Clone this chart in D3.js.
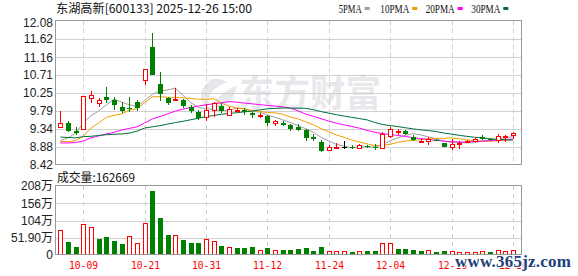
<!DOCTYPE html>
<html>
<head>
<meta charset="utf-8">
<script src="https://cdn.jsdelivr.net/npm/d3@7"></script>
<style>
  body { margin: 0; background: #fff; }
  svg { display: block; }
</style>
</head>
<body>
<svg id="chart"></svg>
<script>
// daily data, 2025-09-26 .. 2025-12-26
const dates = ["09-26","09-29","09-30","10-09","10-10","10-13","10-14","10-15","10-16","10-17",
  "10-20","10-21","10-22","10-23","10-24","10-27","10-28","10-29","10-30","10-31",
  "11-03","11-04","11-05","11-06","11-07","11-10","11-11","11-12","11-13","11-14",
  "11-17","11-18","11-19","11-20","11-21","11-24","11-25","11-26","11-27","11-28",
  "12-01","12-02","12-03","12-04","12-05","12-08","12-09","12-10","12-11","12-12",
  "12-15","12-16","12-17","12-18","12-19","12-22","12-23","12-24","12-25","12-26"];
const opens = [9.38,9.48,9.29,9.33,10.12,9.99,10.15,10.07,9.89,9.87,
  10.01,10.57,11.42,10.48,10.12,10.06,10.07,9.90,9.77,9.63,
  9.82,9.93,9.69,9.79,9.82,9.73,9.66,9.67,9.48,9.48,
  9.44,9.39,9.31,9.14,9.01,8.80,8.86,8.89,8.87,8.84,
  8.90,8.87,8.86,9.16,9.26,9.28,9.12,9.00,9.04,9.06,
  8.99,8.88,8.95,9.00,9.02,9.12,9.08,9.06,9.13,9.19];
const highs = [9.79,9.54,9.39,10.17,10.30,10.12,10.40,10.14,10.02,10.14,
  10.08,10.85,11.77,10.78,10.16,10.37,10.11,9.94,9.82,9.97,
  10.02,10.00,9.90,9.88,9.88,9.77,9.75,9.68,9.56,9.54,
  9.46,9.45,9.33,9.20,9.05,8.92,8.97,9.03,8.93,8.95,
  8.94,8.95,9.27,9.39,9.33,9.31,9.17,9.09,9.14,9.08,
  8.99,9.07,9.02,9.06,9.11,9.17,9.10,9.21,9.19,9.26];
const lows = [9.37,9.25,9.17,9.33,10.00,9.89,10.00,9.83,9.73,9.77,
  9.78,10.46,10.71,10.04,9.94,10.06,9.88,9.75,9.56,9.55,
  9.65,9.73,9.69,9.75,9.69,9.62,9.61,9.41,9.41,9.41,
  9.29,9.28,9.03,9.03,8.74,8.77,8.85,8.83,8.82,8.82,
  8.85,8.80,8.83,9.10,9.18,9.17,9.02,8.97,8.94,9.02,
  8.88,8.81,8.83,8.99,9.00,9.06,9.04,8.97,9.00,9.09];
const closes = [9.48,9.29,9.24,10.17,10.19,10.08,10.07,9.95,9.80,9.85,
  9.87,10.85,10.71,10.22,9.99,10.10,9.92,9.80,9.61,9.82,
  10.00,9.80,9.85,9.83,9.76,9.68,9.70,9.49,9.53,9.43,
  9.34,9.31,9.10,9.08,8.78,8.88,8.89,8.89,8.84,8.92,
  8.88,8.84,9.21,9.33,9.28,9.21,9.06,9.04,9.08,9.05,
  8.88,8.95,8.99,9.04,9.08,9.09,9.06,9.16,9.16,9.23];
// volume, in 万
const volumes = [75.4,40.1,25.0,93.4,84.4,48.2,54.3,43.2,33.2,56.3,
  35.2,95.5,193.8,111.5,60.3,60.3,46.2,36.2,36.2,47.2,
  43.2,27.1,23.1,21.1,21.1,24.1,15.1,21.1,15.1,16.1,
  16.1,19.1,21.1,13.1,24.1,12.1,12.1,12.1,10.0,12.1,
  13.1,13.1,36.2,35.2,18.1,18.1,15.1,12.1,15.1,10.0,
  12.1,13.1,10.0,9.0,10.0,12.1,10.0,15.1,12.1,16.2669];
// MA values before the window is full
const ma5Head = [9.04,9.11,9.23,9.49];
const ma10Head = [9.02,9.01,9.04,9.15,9.36,9.49,9.63,9.68,9.72];
const ma20Head = [8.98,8.98,8.99,9.03,9.11,9.16,9.21,9.25,9.31,9.35,
  9.39,9.49,9.59,9.65,9.72,9.79,9.84,9.88,9.92];
const ma30Head = [9.13,9.12,9.11,9.14,9.15,9.17,9.19,9.20,9.21,9.23,
  9.28,9.36,9.39,9.42,9.46,9.50,9.53,9.57,9.61,9.65,
  9.68,9.71,9.73,9.75,9.77,9.79,9.82,9.85,9.86];

const priceTicks = ["12.08","11.62","11.16","10.71","10.25","9.79","9.34","8.88","8.42"];
const volTicks = [208, 156, 104, 51.9, 0];
const volTickLabels = ["208万","156万","104万","51.90万","0"];
const dateTicks = ["10-09","10-21","10-31","11-12","11-24","12-04","12-16","12-26"];

const title = "东湖高新[600133] 2025-12-26 15:00";
const volTitle = "成交量:162669";
const maNames = ["5PMA","10PMA","20PMA","30PMA"];
const maColors = ["#a0a0a0","#f0a000","#ff00ff","#00703c"];

const red = "#ff0000", green = "#008000";

const svg = d3.select("#chart")
  .attr("width", 578)
  .attr("height", 276);

const left = 56, right = 522;
const pTop = 21, pBottom = 165;
const vTop = 186, vBottom = 255;

const x = d3.scaleBand()
  .domain(dates)
  .range([56.5, 516.7]);
const cx = d => Math.round(x(d) + x.bandwidth() / 2) + 0.5;

const y = d3.scaleLinear()
  .domain([8.42, 12.08])
  .range([pBottom, pTop]);
const yv = d3.scaleLinear()
  .domain([0, 208])
  .range([vBottom, vTop]);

const data = dates.map((d, i) => ({
  date: d, open: opens[i], high: highs[i], low: lows[i], close: closes[i], vol: volumes[i]
}));

function movingAvg(head, n) {
  return closes.map((c, i) => i < head.length ? head[i] : d3.mean(closes.slice(i - n + 1, i + 1)));
}
const mas = [movingAvg(ma5Head, 5), movingAvg(ma10Head, 10), movingAvg(ma20Head, 20), movingAvg(ma30Head, 30)];

// watermark
const wm = svg.append("g").attr("class", "watermark");
wm.append("path")
  .attr("d", "M212,79 C199,87 197,102 209,109 C205,98 212,88 227,82 C222,79 216,78 212,79 Z M215,101 C222,92 232,88 237,85 C235,98 227,107 213,109 Z")
  .attr("fill", "#e8e8ec");
wm.append("text")
  .attr("x", 239)
  .attr("y", 107)
  .attr("font-family", "Noto Sans CJK SC")
  .attr("font-weight", "bold")
  .attr("font-size", 37)
  .attr("fill", "#e8e8ec")
  .attr("textLength", 142)
  .attr("lengthAdjust", "spacingAndGlyphs")
  .text("东方财富");

// grid
const grid = svg.append("g").attr("class", "grid")
  .attr("stroke", "#d0d0d0")
  .attr("shape-rendering", "crispEdges");
grid.selectAll(".hp")
  .data(priceTicks.slice(1, -1))
  .enter().append("line")
  .attr("x1", left).attr("x2", right)
  .attr("y1", d => Math.round(y(+d)) + 0.5)
  .attr("y2", d => Math.round(y(+d)) + 0.5);
grid.selectAll(".hv")
  .data(volTicks.slice(1, -1))
  .enter().append("line")
  .attr("x1", left).attr("x2", right)
  .attr("y1", d => Math.round(yv(d)) + 0.5)
  .attr("y2", d => Math.round(yv(d)) + 0.5);
[[pTop, pBottom], [vTop, vBottom]].forEach(function (r) {
  grid.selectAll(null)
    .data(dateTicks)
    .enter().append("line")
    .attr("x1", d => cx(d)).attr("x2", d => cx(d))
    .attr("y1", r[0]).attr("y2", r[1])
    .attr("stroke-dasharray", "4,4");
});

// moving averages
const maLine = d3.line()
  .x((v, i) => x(dates[i]) + x.bandwidth() / 2)
  .y(v => y(v));
svg.append("g").selectAll("path")
  .data(mas)
  .enter().append("path")
  .attr("d", d => maLine(d))
  .attr("fill", "none")
  .attr("stroke", (d, i) => maColors[i])
  .attr("stroke-width", 1);

// candles
const candles = svg.append("g").attr("class", "candles")
  .attr("shape-rendering", "crispEdges");
data.forEach(function (d) {
  const c = cx(d.date);
  const up = d.close > d.open, flat = d.close === d.open;
  const color = flat ? "#000" : (up ? red : green);
  const yo = Math.round(y(d.open)), yc = Math.round(y(d.close));
  const bt = Math.min(yo, yc), bb = Math.max(yo, yc);
  const yh = Math.round(y(d.high)), yl = Math.round(y(d.low));
  if (up) {
    if (yh < bt) candles.append("line").attr("x1", c).attr("x2", c).attr("y1", yh).attr("y2", bt).attr("stroke", color);
    if (yl > bb) candles.append("line").attr("x1", c).attr("x2", c).attr("y1", bb + 1).attr("y2", yl).attr("stroke", color);
    candles.append("rect")
      .attr("x", c - 2).attr("y", bt + 0.5)
      .attr("width", 4).attr("height", Math.max(bb - bt, 1))
      .attr("fill", "#fff").attr("stroke", color);
  } else {
    candles.append("line").attr("x1", c).attr("x2", c).attr("y1", yh).attr("y2", yl).attr("stroke", color);
    candles.append("rect")
      .attr("x", c - 2.5).attr("y", bt)
      .attr("width", 5).attr("height", Math.max(bb - bt, 1))
      .attr("fill", color);
  }
});

// volume bars, coloured by close against the previous close
const bars = svg.append("g").attr("class", "volume")
  .attr("shape-rendering", "crispEdges");
data.forEach(function (d, i) {
  const c = cx(d.date);
  const up = i === 0 ? d.close > d.open : d.close >= closes[i - 1];
  const top = Math.round(yv(d.vol));
  if (up) {
    bars.append("rect")
      .attr("x", c - 2).attr("y", top + 0.5)
      .attr("width", 4).attr("height", vBottom - top - 1)
      .attr("fill", "#fff").attr("stroke", red);
  } else {
    bars.append("rect")
      .attr("x", c - 2.5).attr("y", top)
      .attr("width", 5).attr("height", vBottom - top)
      .attr("fill", green);
  }
});

// frames
svg.selectAll(".frame")
  .data([[pTop, pBottom], [vTop, vBottom]])
  .enter().append("rect")
  .attr("x", left - 0.5).attr("y", d => d[0] - 0.5)
  .attr("width", right - left).attr("height", d => d[1] - d[0])
  .attr("fill", "none")
  .attr("stroke", "#999")
  .attr("shape-rendering", "crispEdges");

// axis labels
svg.append("g").selectAll("text")
  .data(priceTicks)
  .enter().append("text")
  .attr("x", 53)
  .attr("y", d => Math.max(y(+d), 22.5))
  .attr("dy", "0.36em")
  .attr("text-anchor", "end")
  .attr("font-family", "Liberation Sans, Arial, sans-serif")
  .attr("font-size", 12)
  .attr("fill", "#222")
  .text(d => d);
svg.append("g").selectAll("text")
  .data(volTicks)
  .enter().append("text")
  .attr("x", 53)
  .attr("y", d => yv(d))
  .attr("dy", "0.36em")
  .attr("text-anchor", "end")
  .attr("font-family", "Liberation Sans, Noto Sans CJK SC, sans-serif")
  .attr("font-size", 12)
  .attr("fill", "#222")
  .text((d, i) => volTickLabels[i]);
svg.append("g").selectAll("text")
  .data(dateTicks)
  .enter().append("text")
  .attr("x", d => cx(d))
  .attr("y", 269)
  .attr("text-anchor", "middle")
  .attr("font-family", "DejaVu Sans Mono, monospace")
  .attr("font-size", 11)
  .attr("textLength", 29)
  .attr("lengthAdjust", "spacingAndGlyphs")
  .attr("fill", red)
  .text(d => d);

// titles
svg.append("text")
  .attr("x", 56).attr("y", 13)
  .attr("font-family", "Noto Sans CJK SC, sans-serif")
  .attr("font-size", 12)
  .attr("textLength", 196)
  .attr("lengthAdjust", "spacingAndGlyphs")
  .attr("fill", "#111")
  .text(title);
svg.append("text")
  .attr("x", 57).attr("y", 182)
  .attr("font-family", "Noto Sans CJK SC, sans-serif")
  .attr("font-size", 12)
  .attr("textLength", 78)
  .attr("lengthAdjust", "spacingAndGlyphs")
  .attr("fill", "#111")
  .text(volTitle);

// legend
const legendX = [338.7, 380.3, 425.7, 471.3];
const legend = svg.append("g").selectAll("g")
  .data(maNames)
  .enter().append("g")
  .attr("transform", (d, i) => `translate(${legendX[i]},0)`);
legend.append("text")
  .attr("y", 12.7)
  .attr("font-family", "Liberation Serif, serif")
  .attr("font-size", 13.5)
  .attr("textLength", d => d.length * 6 - 1)
  .attr("lengthAdjust", "spacingAndGlyphs")
  .attr("fill", "#111")
  .text(d => d);
legend.append("rect")
  .attr("x", d => d.length * 6 + 2)
  .attr("y", 7)
  .attr("width", 5).attr("height", 3)
  .attr("fill", (d, i) => maColors[i]);

// site mark
svg.append("text")
  .attr("x", 455).attr("y", 267)
  .attr("font-family", "Liberation Serif, serif")
  .attr("font-weight", "bold")
  .attr("font-size", 17)
  .attr("textLength", 116)
  .attr("fill", "#21407a")
  .attr("stroke", "#fff")
  .attr("stroke-width", 2)
  .attr("paint-order", "stroke")
  .text("www.365jz.com");
</script>
</body>
</html>
